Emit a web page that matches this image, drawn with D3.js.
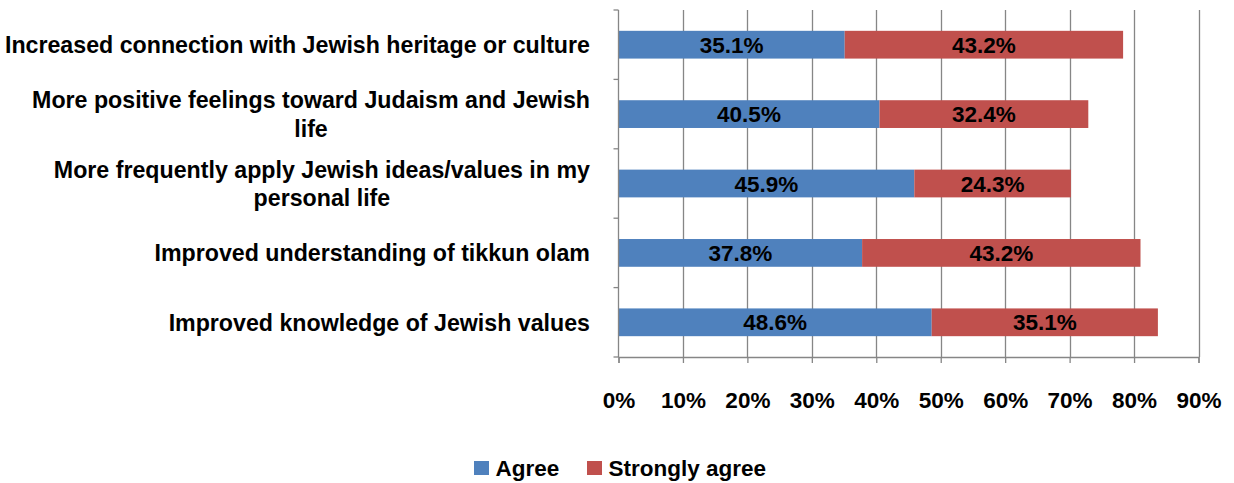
<!DOCTYPE html>
<html><head><meta charset="utf-8">
<script src="https://cdn.jsdelivr.net/npm/d3@7"></script>
<style>body{margin:0;background:#fff;} svg{display:block;font-family:"Liberation Sans",Arial,sans-serif;}</style>
</head><body>
<svg id="c" width="1234" height="483"></svg>
<script>
const categories = [
  ["Increased connection with Jewish heritage or culture"],
  ["More positive feelings toward Judaism and Jewish", "life"],
  ["More frequently apply Jewish ideas/values in my", "personal life"],
  ["Improved understanding of tikkun olam"],
  ["Improved knowledge of Jewish values"]
];
const agree = [35.1, 40.5, 45.9, 37.8, 48.6];
const stronglyAgree = [43.2, 32.4, 24.3, 43.2, 35.1];
const tickValues = [0,10,20,30,40,50,60,70,80,90];
const seriesNames = ["Agree", "Strongly agree"];
const colors = ["#4F81BD", "#C0504D"];

const svg = d3.select("#c");
const m = {left: 618.5, right: 1198.5, top: 10, bottom: 357};
const x = d3.scaleLinear().domain([0, 90]).range([m.left, m.right]);
const y = d3.scaleBand().domain(d3.range(categories.length)).range([m.top, m.bottom]).paddingInner(0.6).paddingOuter(0.3);
const yb = d3.scaleBand().domain(d3.range(categories.length)).range([m.top, m.bottom]);

// gridlines
svg.append("g").selectAll("line").data(tickValues.slice(1)).join("line")
  .attr("x1", d => Math.round(x(d))+0.5).attr("x2", d => Math.round(x(d))+0.5)
  .attr("y1", m.top).attr("y2", m.bottom)
  .attr("stroke", "#868686").attr("stroke-width", 1.3);

// bars
const rows = categories.map((c, i) => ({i, a: agree[i], s: stronglyAgree[i]}));
const g = svg.append("g");
g.selectAll("rect.a").data(rows).join("rect")
  .attr("x", x(0)).attr("y", d => y(d.i)).attr("height", y.bandwidth())
  .attr("width", d => x(d.a) - x(0)).attr("fill", colors[0]);
g.selectAll("rect.s").data(rows).join("rect")
  .attr("x", d => x(d.a)).attr("y", d => y(d.i)).attr("height", y.bandwidth())
  .attr("width", d => x(d.a + d.s) - x(d.a)).attr("fill", colors[1]);

// data labels
const lab = svg.append("g").attr("font-weight", "bold").attr("font-size", 22.5).attr("text-anchor", "middle").attr("fill", "#000");
lab.selectAll("text.a").data(rows).join("text")
  .attr("x", d => x(d.a/2)).attr("y", d => y(d.i) + y.bandwidth()/2).attr("dy", "0.36em")
  .text(d => d.a.toFixed(1) + "%");
lab.selectAll("text.s").data(rows).join("text")
  .attr("x", d => x(d.a + d.s/2)).attr("y", d => y(d.i) + y.bandwidth()/2).attr("dy", "0.36em")
  .text(d => d.s.toFixed(1) + "%");

// y axis
const yAxis = svg.append("g").attr("stroke", "#868686").attr("stroke-width", 1.3);
yAxis.append("line").attr("x1", m.left).attr("x2", m.left).attr("y1", m.top).attr("y2", m.bottom);
yAxis.selectAll("line.t").data(d3.range(categories.length + 1)).join("line")
  .attr("x1", m.left - 5).attr("x2", m.left)
  .attr("y1", d => d < categories.length ? yb(d) : m.bottom)
  .attr("y2", d => d < categories.length ? yb(d) : m.bottom);

// x axis
const xAxis = svg.append("g").attr("transform", `translate(0,${m.bottom})`)
  .call(d3.axisBottom(x).tickValues(tickValues).tickSize(6).tickFormat(d => d + "%"));
xAxis.select(".domain").attr("stroke", "#868686").attr("stroke-width", 1.3);
xAxis.selectAll(".tick line").attr("stroke", "#868686").attr("stroke-width", 1.3);
xAxis.selectAll(".tick text").attr("font-size", 22.5).attr("font-weight", "bold").attr("fill", "#000")
  .attr("font-family", "Liberation Sans, Arial, sans-serif").attr("y", 43).attr("dy", "0.36em");

// category labels
const cl = svg.append("g").attr("font-weight", "bold").attr("font-size", 23.2).attr("fill", "#000");
categories.forEach((lines, i) => {
  const cy = yb(i) + yb.bandwidth()/2;
  const lh = 28.5;
  const t = cl.append("text").attr("text-anchor", "middle");
  lines.forEach((ln, j) => {
    t.append("tspan").attr("x", 0).attr("y", cy + (j - (lines.length-1)/2) * lh).attr("dy", "0.36em").text(ln);
  });
  const w = t.node().getBBox().width;
  t.selectAll("tspan").attr("x", 590 - w/2);
});

// legend
const leg = svg.append("g").attr("font-weight", "bold").attr("font-size", 22.5);
const legX = [474, 587];
seriesNames.forEach((n, i) => {
  leg.append("rect").attr("x", legX[i]).attr("y", 461).attr("width", 15).attr("height", 14).attr("fill", colors[i]);
  leg.append("text").attr("x", legX[i] + 21.5).attr("y", 467.5).attr("dy", "0.36em").text(n);
});
</script>
</body></html>
